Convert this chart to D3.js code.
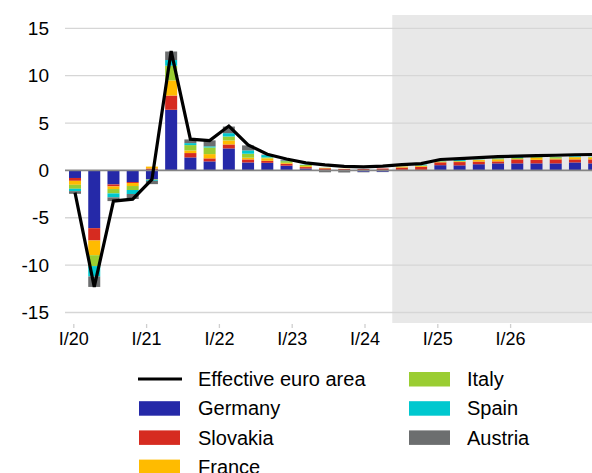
<!DOCTYPE html>
<html>
<head>
<meta charset="utf-8">
<script src="https://cdn.jsdelivr.net/npm/d3@7/dist/d3.min.js"></script>
<style>
  html, body { margin: 0; padding: 0; background: #fff; }
  svg { display: block; }
  text { font-family: "Liberation Sans", Arial, sans-serif; fill: #000; }
</style>
</head>
<body>
<svg id="chart" width="592" height="473"></svg>
<script>
// Quarterly contributions by country (percentage points) and the euro area total
const quarters = [
  "I/20","II/20","III/20","IV/20",
  "I/21","II/21","III/21","IV/21",
  "I/22","II/22","III/22","IV/22",
  "I/23","II/23","III/23","IV/23",
  "I/24","II/24","III/24","IV/24",
  "I/25","II/25","III/25","IV/25",
  "I/26","II/26","III/26","IV/26"
];
const germany  = [-0.80,-6.10,-1.48,-1.23, -0.95,6.40,1.37,0.95, 2.32,0.84,0.80,0.50, 0.20,0.00,-0.02,-0.15, -0.15,0.05,0.05,0.55, 0.53,0.65,0.74,0.74, 0.74,0.74,0.84,0.74];
const slovakia = [-0.30,-1.30,-0.21,-0.10,  0.20,1.50,0.46,0.32, 0.42,0.32,0.21,0.20, 0.15,0.22,0.15,0.15,  0.20,0.25,0.33,0.30, 0.35,0.28,0.21,0.42, 0.37,0.42,0.32,0.42];
const france   = [-0.42,-1.55,-0.28,-0.32,  0.20,1.60,0.28,0.45, 0.42,0.18,0.26,0.10, 0.10,0.03,0.02,0.00,  0.00,0.10,0.10,0.06, 0.08,0.16,0.21,0.05, 0.21,0.10,0.23,0.21];
const italy    = [-0.42,-1.15,-0.46,-0.42, -0.05,1.55,0.56,0.70, 0.42,0.42,0.10,0.18, 0.12,0.03,0.00,0.00,  0.00,0.02,0.05,0.05, 0.03,0.03,0.10,0.10, 0.10,0.14,0.03,0.05];
const spain    = [-0.25,-1.10,-0.42,-0.42, -0.10,0.60,0.21,0.12, 0.35,0.35,0.25,0.05, 0.03,0.00,0.00,0.00,  0.00,0.00,0.08,0.02, 0.10,0.02,0.02,0.10, 0.02,0.02,0.07,0.03];
const austria  = [-0.28,-1.10,-0.39,-0.53, -0.35,0.90,0.39,0.63, 0.70,0.53,0.05,0.10, 0.00,-0.20,-0.20,-0.05, -0.03,0.00,0.00,0.00, 0.00,0.00,0.00,0.00, 0.00,0.00,0.00,0.00];
const euroArea = [-2.35,-12.3,-3.24,-3.03, -0.95,12.6,3.30,3.15, 4.68,2.70,1.70,1.20, 0.80,0.58,0.42,0.38, 0.45,0.60,0.72,1.15, 1.25,1.35,1.45,1.50, 1.55,1.60,1.65,1.68];

const countryNames  = ["Germany","Slovakia","France","Italy","Spain","Austria"];
const countryColors = ["#2529a8","#d62b20","#ffbb00","#9acd32","#00c8cf","#6c6e6f"];
const yTicks = [-15,-10,-5,0,5,10,15];
const yearLabels = ["I/20","I/21","I/22","I/23","I/24","I/25","I/26"];
const projectionStart = "II/24";
const lineLabel = "Effective euro area";

const series = [germany, slovakia, france, italy, spain, austria];
const rows = quarters.map((q, i) => {
  const r = { quarter: q };
  countryNames.forEach((c, k) => { r[c] = series[k][i]; });
  return r;
});

const svg = d3.select("#chart");
const W = 592;
const plotTop = 15, plotBottom = 323, plotLeft = 65;

const y = d3.scaleLinear().domain([-15, 15]).range([312.5, 28.3]);
const x = d3.scaleBand().domain(quarters).range([65.4, 603.8])
  .paddingInner(0.376).paddingOuter(0.188);
// year labels sit on their own evenly spaced grid
const xYears = d3.scaleLinear().domain([0, 28]).range([73.3, 73.3 + 28 * 18.2]);

// projection shading
const gap = x.step() - x.bandwidth();
const shadeX = x(projectionStart) - gap / 2;
svg.append("rect")
  .attr("x", shadeX).attr("y", plotTop)
  .attr("width", W - shadeX).attr("height", plotBottom - plotTop)
  .attr("fill", "#e8e8e8");

// horizontal gridlines
svg.append("g").selectAll("line").data(yTicks.filter(t => t !== 0)).join("line")
  .attr("x1", plotLeft).attr("x2", W)
  .attr("y1", d => y(d)).attr("y2", d => y(d))
  .attr("stroke", "#d6d6d6").attr("stroke-width", 1.3);

// y axis labels (plain hyphen for negatives)
const yAxis = d3.axisLeft(y).tickValues(yTicks).tickFormat(d => String(d))
  .tickSize(0).tickPadding(0);
svg.append("g").attr("transform", "translate(49,0)").call(yAxis)
  .call(g => g.select(".domain").remove())
  .call(g => g.selectAll("text").attr("font-size", 19)
    .attr("font-family", "'Liberation Sans', Arial, sans-serif").attr("fill", "#000"));

// stacked contribution bars
const stack = d3.stack().keys(countryNames).offset(d3.stackOffsetDiverging);
const stacked = stack(rows);
svg.append("g").selectAll("g").data(stacked).join("g")
  .attr("fill", (d, i) => countryColors[i])
  .selectAll("rect").data(d => d).join("rect")
  .attr("x", d => x(d.data.quarter))
  .attr("width", x.bandwidth())
  .attr("y", d => y(Math.max(d[0], d[1])))
  .attr("height", d => Math.abs(y(d[0]) - y(d[1])));

// zero line
svg.append("line")
  .attr("x1", plotLeft).attr("x2", W)
  .attr("y1", y(0)).attr("y2", y(0))
  .attr("stroke", "#858585").attr("stroke-width", 1.8);

// euro area line
const line = d3.line()
  .x((d, i) => x(quarters[i]) + x.bandwidth() / 2)
  .y(d => y(d));
svg.append("path").datum(euroArea)
  .attr("d", line)
  .attr("fill", "none").attr("stroke", "#000")
  .attr("stroke-width", 3.2).attr("stroke-linejoin", "miter");

// x axis
const xAxis = d3.axisBottom(xYears)
  .tickValues(yearLabels.map((d, i) => i * 4))
  .tickFormat((d, i) => yearLabels[i])
  .tickSize(4).tickPadding(4);
svg.append("g").attr("transform", "translate(0,324)").call(xAxis)
  .call(g => g.select(".domain").remove())
  .call(g => g.selectAll(".tick line").attr("stroke", "#cfcfcf").attr("stroke-width", 1.3))
  .call(g => g.selectAll("text").attr("font-size", 18)
    .attr("font-family", "'Liberation Sans', Arial, sans-serif").attr("fill", "#000"));

// legend
const legend = svg.append("g");
const rowGap = 29.2;
const legendItems = [{ name: lineLabel, type: "line", col: 0, row: 0 }]
  .concat(countryNames.map((c, i) => ({
    name: c, type: "rect", color: countryColors[i],
    col: i < 3 ? 0 : 1, row: i < 3 ? i + 1 : i - 3
  })));
const colX = [139, 409];
const textX = [198, 467];
const item = legend.selectAll("g").data(legendItems).join("g")
  .attr("transform", d => `translate(0,${379 + d.row * rowGap})`);
item.filter(d => d.type === "line").append("line")
  .attr("x1", d => colX[d.col] - 1).attr("x2", d => colX[d.col] + 43)
  .attr("y1", 0).attr("y2", 0)
  .attr("stroke", "#000").attr("stroke-width", 3);
item.filter(d => d.type === "rect").append("rect")
  .attr("x", d => colX[d.col]).attr("y", -7)
  .attr("width", 41).attr("height", 14.5)
  .attr("fill", d => d.color);
item.append("text")
  .attr("x", d => textX[d.col]).attr("y", 7.2)
  .attr("font-size", 20)
  .text(d => d.name);
</script>
</body>
</html>
